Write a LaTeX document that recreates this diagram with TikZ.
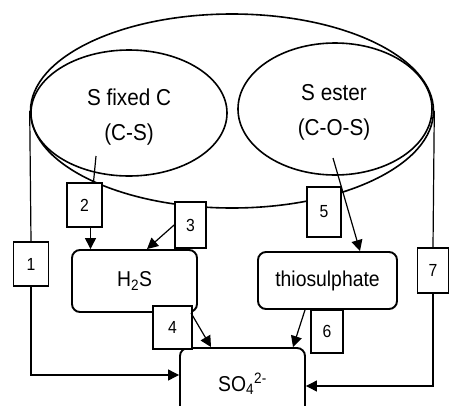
\documentclass[tikz,border=0pt]{standalone}
\usepackage{fontspec}
\setmainfont{Liberation Sans}[FakeStretch=0.9]
\usetikzlibrary{shapes.geometric,arrows.meta}
\begin{document}
\begin{tikzpicture}[x=1pt,y=-1pt,
  oval/.style={draw, ellipse, line width=1.6pt, inner sep=0pt},
  ovaltext/.style={font=\fontsize{23}{35}\selectfont, align=center, inner sep=0pt},
  numbox/.style={draw, fill=white, line width=1.8pt, inner sep=0pt, font=\fontsize{17.5}{20}\selectfont},
  pool/.style={draw, fill=white, rounded corners=8pt, line width=1.9pt, inner sep=0pt, font=\fontsize{21.5}{25}\selectfont},
  conn/.style={line width=1.2pt},
  arr/.style={conn, -{Triangle[length=11pt,width=11pt]}}
]
\clip (0,0) rectangle (450,405);
% ellipses
\node[oval, minimum width=403pt, minimum height=194pt] (soil) at (232,111) {};
\node[oval, minimum width=196pt, minimum height=126pt] (fixC) at (129,113) {};
\node[oval, minimum width=194pt, minimum height=132pt] (ester) at (335,109) {};
\node[ovaltext] (fixCtext) at (129,117) {S fixed C\\(C-S)};
\node[ovaltext] (estertext) at (334,112) {S ester\\(C-O-S)};
% pools
\node[pool, minimum width=125pt, minimum height=62pt] (h2s) at (134.5,281) {H\textsubscript{2}S};
\node[pool, minimum width=139pt, minimum height=57pt] (thio) at (327.5,280.5) {thiosulphate};
\node[pool, minimum width=125pt, minimum height=72pt] (so4) at (242.5,384) {\raisebox{3pt}{SO\textsubscript{4}\textsuperscript{2-}}};
% numbered boxes
\node[numbox, minimum width=35pt, minimum height=44pt] (box1) at (31,264) {1};
\node[numbox, minimum width=35pt, minimum height=44pt] (box2) at (84.5,205) {2};
\node[numbox, minimum width=31pt, minimum height=46pt] (box3) at (190.5,225) {3};
\node[numbox, minimum width=39pt, minimum height=43pt] (box4) at (172.5,327.5) {4};
\node[numbox, minimum width=34pt, minimum height=50pt] (box5) at (324,212) {5};
\node[numbox, minimum width=32pt, minimum height=43pt] (box6) at (327,331.5) {6};
\node[numbox, minimum width=31pt, minimum height=45pt] (box7) at (433,270.5) {7};
% connectors
\coordinate (s2) at (96,156);
\coordinate (s5) at (333,158);
\draw[conn] (soil.west) -- (box1.north);
\draw[arr] (box1.south) |- ([yshift=9pt]so4.west);
\draw[conn] (soil.east) -- (box7.north);
\draw[arr] (box7.south) |- ([yshift=-2pt]so4.east);
\draw[conn] (s2) -- ([xshift=9pt]box2.north);
\draw[arr] ([xshift=6pt]box2.south) -- ([xshift=6pt]box2.south |- h2s.north);
\draw[arr] (box3.west) -- ([xshift=12.5pt]h2s.north);
\draw[arr] (s5) -- ([xshift=32.5pt]thio.north);
\draw[arr] ([xshift=56.5pt]h2s.south) -- ([xshift=-31.5pt]so4.north);
\draw[arr] ([xshift=-22.5pt]thio.south) -- ([xshift=50.5pt]so4.north);
\end{tikzpicture}
\end{document}
